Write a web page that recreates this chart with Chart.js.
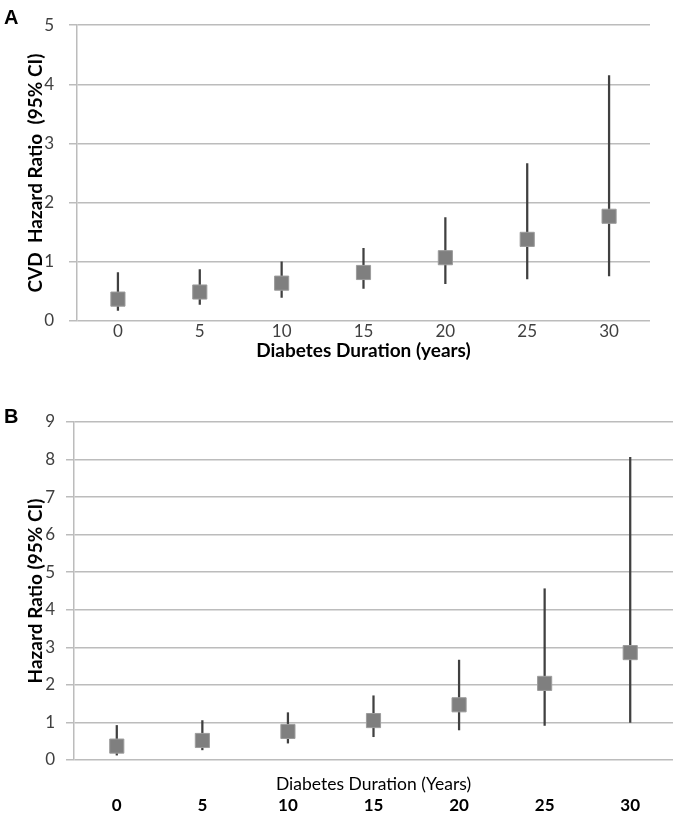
<!DOCTYPE html>
<html>
<head>
<meta charset="utf-8">
<script src="https://cdn.jsdelivr.net/npm/chart.js@4.4.1/dist/chart.umd.min.js"></script>
<style>
  body { margin: 0; background: #fff; }
  .panel { position: absolute; left: 0; }
  .tag { position: absolute; left: 4px; font: bold 20px "Liberation Sans", Arial, sans-serif; color: #000; }
</style>
</head>
<body>
<div class="panel" style="top:0"><canvas id="chartA" width="684" height="366"></canvas></div>
<div class="panel" style="top:380px"><canvas id="chartB" width="684" height="439"></canvas></div>
<div class="tag" style="top:6px">A</div>
<div class="tag" style="top:405px">B</div>
<script>
const years = ["0", "5", "10", "15", "20", "25", "30"];

// panel A: CVD hazard ratio with 95% CI
const hrA = [0.37, 0.49, 0.64, 0.82, 1.07, 1.38, 1.77];
const loA = [0.18, 0.28, 0.40, 0.55, 0.63, 0.71, 0.76];
const hiA = [0.82, 0.87, 1.00, 1.23, 1.75, 2.66, 4.15];

// panel B
const hrB = [0.37, 0.52, 0.76, 1.05, 1.47, 2.04, 2.86];
const loB = [0.13, 0.27, 0.45, 0.62, 0.80, 0.92, 1.00];
const hiB = [0.92, 1.05, 1.26, 1.71, 2.66, 4.56, 8.06];

const GRID = "#bcbcbc";
const TICK = "#404040";
const SQUARE = "#7f7f7f";
const WHISKER = "#404040";

function datasets(hr, lo, hi) {
  return [
    {
      type: "line",
      data: hr,
      showLine: false,
      pointStyle: "rect",
      pointRadius: 10,
      pointHoverRadius: 10,
      pointBackgroundColor: SQUARE,
      pointBorderColor: "#9c9c9c",
      pointBorderWidth: 1,
      order: 0,
    },
    {
      type: "bar",
      data: lo.map((v, i) => [v, hi[i]]),
      backgroundColor: WHISKER,
      barThickness: 1.6,
      order: 1,
    },
  ];
}

function yScale(max, title, leftWidth, pad) {
  return {
    min: 0,
    max: max,
    ticks: { stepSize: 1, padding: pad, color: TICK, font: { family: "Lato", size: 17 } },
    grid: { color: GRID, lineWidth: 1.5, drawTicks: true, tickLength: 8, tickColor: GRID },
    border: { display: true, color: GRID, width: 1.5 },
    title: {
      display: true,
      text: title,
      color: "#000",
      font: { family: "Lato", weight: "bold", size: 19 },
      padding: { top: 24, bottom: 0 },
    },
    afterFit: (s) => { s.width = leftWidth; },
  };
}

const baseOpts = {
  responsive: false,
  animation: false,
  events: [],
  plugins: { legend: { display: false }, tooltip: { enabled: false } },
};

new Chart(document.getElementById("chartA"), {
  type: "bar",
  data: { labels: years, datasets: datasets(hrA, loA, hiA) },
  options: {
    ...baseOpts,
    layout: { padding: { left: 0, right: 34, top: 11, bottom: 0 } },
    scales: {
      x: {
        grid: { display: false, drawTicks: false, tickLength: 0 },
        border: { display: false },
        ticks: { padding: 0, color: TICK, font: { family: "Lato", size: 17 } },
        title: {
          display: true,
          text: "Diabetes Duration (years)",
          color: "#000",
          font: { family: "Lato", weight: "bold", size: 19 },
          padding: { top: 0, bottom: 4 },
        },
        afterFit: (s) => { s.height = 45; },
      },
      y: yScale(5, "CVD  Hazard Ratio  (95% CI)", 77, 15),
    },
  },
});

new Chart(document.getElementById("chartB"), {
  type: "bar",
  data: { labels: years, datasets: datasets(hrB, loB, hiB) },
  options: {
    ...baseOpts,
    layout: { padding: { left: 0, right: 9, top: 42, bottom: 0 } },
    scales: {
      // title sits between the plot and the tick labels in this panel
      xTitle: {
        type: "category",
        position: "bottom",
        weight: 0,
        grid: { display: false, drawTicks: false, tickLength: 0 },
        border: { display: false },
        ticks: { display: false },
        title: {
          display: true,
          text: "Diabetes Duration (Years)",
          color: "#000",
          font: { family: "Lato", size: 17.5 },
          padding: { top: 0, bottom: 0 },
        },
        afterFit: (s) => { s.height = 35; },
      },
      x: {
        position: "bottom",
        weight: 10,
        grid: { display: false, drawTicks: false, tickLength: 0 },
        border: { display: false },
        ticks: { padding: 0, color: "#000", font: { family: "Lato", weight: "bold", size: 17 } },
        afterFit: (s) => { s.height = 24; },
      },
      y: yScale(9, "Hazard Ratio (95% CI)", 74, 11),
    },
  },
});
</script>
</body>
</html>
